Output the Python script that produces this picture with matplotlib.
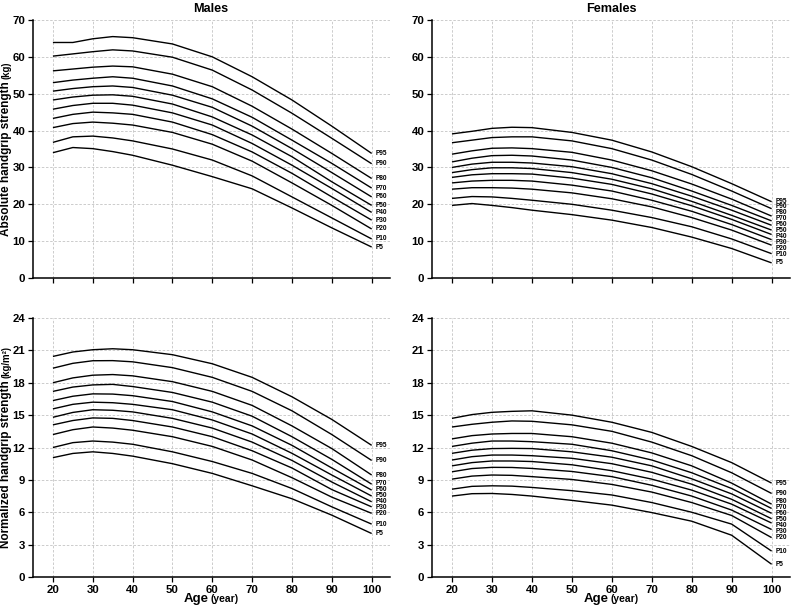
import matplotlib
matplotlib.use("Agg")
import matplotlib.pyplot as plt
import numpy as np

plt.rcParams['font.family'] = ['Liberation Sans', 'DejaVu Sans']
plt.rcParams['font.weight'] = 'bold'

ages = [20, 25, 30, 35, 40, 50, 60, 70, 80, 90, 100]
percentiles = ["P95", "P90", "P80", "P70", "P60", "P50", "P40", "P30", "P20", "P10", "P5"]

male_abs = [
    [63.9, 63.9, 64.9, 65.5, 65.2, 63.5, 60.0, 54.6, 48.3, 41.2, 33.8],
    [60.2, 60.8, 61.4, 61.9, 61.6, 59.9, 56.4, 51.0, 44.7, 37.9, 31.0],
    [56.2, 56.7, 57.2, 57.5, 57.3, 55.3, 51.9, 46.6, 40.4, 33.8, 27.0],
    [53.0, 53.7, 54.2, 54.6, 54.2, 52.1, 48.6, 43.6, 37.4, 31.1, 24.4],
    [50.7, 51.4, 51.9, 52.1, 51.7, 49.6, 46.3, 41.2, 35.1, 28.6, 22.0],
    [48.3, 49.1, 49.6, 49.7, 49.3, 47.2, 43.7, 38.8, 32.9, 26.1, 19.7],
    [45.8, 46.8, 47.4, 47.4, 46.9, 44.8, 41.5, 36.5, 30.6, 24.3, 17.8],
    [43.3, 44.4, 45.0, 44.8, 44.4, 42.3, 38.9, 34.2, 28.4, 22.0, 15.7],
    [40.8, 41.9, 42.3, 42.0, 41.5, 39.5, 36.3, 31.7, 25.8, 19.7, 13.3],
    [36.8, 38.3, 38.5, 38.0, 37.2, 35.0, 32.0, 27.7, 22.0, 16.3, 10.6],
    [34.0, 35.4, 35.1, 34.3, 33.3, 30.6, 27.5, 24.2, 19.0, 13.6, 8.4],
]

female_abs = [
    [39.1, 39.8, 40.6, 40.9, 40.8, 39.5, 37.4, 34.2, 30.2, 25.6, 20.7],
    [36.7, 37.4, 38.1, 38.3, 38.3, 37.2, 35.1, 32.0, 28.1, 23.6, 18.8],
    [33.6, 34.5, 35.2, 35.3, 35.1, 34.1, 32.0, 29.1, 25.5, 21.4, 16.8],
    [31.5, 32.5, 33.2, 33.3, 33.1, 32.0, 30.0, 27.2, 23.6, 19.7, 15.5],
    [30.0, 30.9, 31.4, 31.4, 31.2, 30.2, 28.3, 25.6, 22.2, 18.4, 14.3],
    [28.6, 29.4, 29.9, 29.9, 29.7, 28.6, 26.8, 24.2, 20.8, 17.0, 13.0],
    [27.3, 28.0, 28.3, 28.3, 28.2, 27.1, 25.4, 22.8, 19.6, 15.9, 11.8],
    [25.8, 26.3, 26.5, 26.5, 26.3, 25.2, 23.6, 21.1, 18.1, 14.5, 10.4],
    [24.1, 24.5, 24.5, 24.4, 24.1, 23.1, 21.5, 19.3, 16.4, 13.0, 8.9],
    [21.6, 22.1, 22.0, 21.6, 21.1, 20.0, 18.4, 16.4, 13.9, 10.6, 6.6],
    [19.7, 20.2, 19.7, 19.1, 18.4, 17.2, 15.7, 13.7, 11.1, 8.0, 4.1],
]

male_norm = [
    [20.44, 20.85, 21.06, 21.15, 21.06, 20.6, 19.76, 18.5, 16.7, 14.6, 12.2],
    [19.35, 19.8, 20.04, 20.05, 19.94, 19.4, 18.5, 17.2, 15.4, 13.2, 10.8],
    [18.0, 18.45, 18.7, 18.76, 18.64, 18.1, 17.2, 15.9, 14.0, 11.9, 9.45],
    [17.2, 17.6, 17.8, 17.85, 17.65, 17.1, 16.2, 14.9, 13.0, 10.9, 8.6],
    [16.35, 16.75, 16.97, 16.95, 16.8, 16.26, 15.3, 14.0, 12.2, 10.1, 8.05],
    [15.58, 16.0, 16.2, 16.15, 16.0, 15.5, 14.55, 13.25, 11.46, 9.45, 7.5],
    [14.8, 15.25, 15.5, 15.45, 15.3, 14.7, 13.8, 12.5, 10.8, 8.8, 6.97],
    [14.1, 14.5, 14.74, 14.7, 14.5, 13.9, 13.0, 11.7, 10.1, 8.1, 6.5],
    [13.2, 13.65, 13.9, 13.8, 13.6, 13.0, 12.1, 10.84, 9.2, 7.4, 5.9],
    [12.0, 12.45, 12.6, 12.5, 12.3, 11.6, 10.7, 9.6, 8.2, 6.5, 4.9],
    [11.06, 11.45, 11.6, 11.45, 11.2, 10.5, 9.6, 8.45, 7.25, 5.73, 4.03],
]

female_norm = [
    [14.7, 15.05, 15.26, 15.35, 15.4, 15.0, 14.34, 13.4, 12.1, 10.6, 8.7],
    [13.9, 14.15, 14.34, 14.46, 14.43, 14.1, 13.5, 12.5, 11.24, 9.66, 7.74],
    [12.8, 13.1, 13.25, 13.3, 13.3, 13.0, 12.4, 11.5, 10.3, 8.7, 6.75],
    [12.1, 12.4, 12.6, 12.6, 12.54, 12.3, 11.7, 10.84, 9.66, 8.2, 6.35],
    [11.46, 11.75, 11.9, 11.92, 11.9, 11.6, 11.1, 10.3, 9.1, 7.7, 5.9],
    [10.84, 11.15, 11.3, 11.3, 11.24, 11.0, 10.5, 9.7, 8.6, 7.2, 5.4],
    [10.3, 10.6, 10.75, 10.75, 10.7, 10.4, 9.85, 9.07, 8.05, 6.75, 5.0],
    [9.75, 10.05, 10.16, 10.15, 10.06, 9.78, 9.3, 8.5, 7.5, 6.2, 4.4],
    [9.07, 9.35, 9.45, 9.42, 9.3, 9.04, 8.58, 7.87, 6.9, 5.7, 3.65],
    [8.14, 8.4, 8.45, 8.42, 8.3, 8.0, 7.6, 6.9, 6.0, 4.9, 2.4],
    [7.5, 7.72, 7.74, 7.65, 7.5, 7.1, 6.66, 5.97, 5.17, 3.87, 1.18],
]

x_ticks = [20, 30, 40, 50, 60, 70, 80, 90, 100]
abs_ticks = [0, 10, 20, 30, 40, 50, 60, 70]
norm_ticks = [0, 3, 6, 9, 12, 15, 18, 21, 24]

W, H = 791, 607
fig = plt.figure(figsize=(W / 100, H / 100), dpi=100)

def px_axes(x0, x1, y0, y1):
    return fig.add_axes([x0 / W, 1 - y1 / H, (x1 - x0) / W, (y1 - y0) / H])

ax_ml = px_axes(33, 390, 20, 278)
ax_fl = px_axes(432, 790, 20, 278)
ax_mn = px_axes(33, 390, 318, 577)
ax_fn = px_axes(432, 790, 318, 577)

def spread(vals, gap):
    v = list(vals)
    for _ in range(300):
        for i in range(1, len(v)):
            d = v[i - 1] - v[i]
            if d < gap:
                m = (gap - d) / 2
                v[i - 1] += m
                v[i] -= m
    return v

def style(ax, yticks, show_xlabels):
    ax.set_xlim(15, 104.6)
    ax.set_ylim(yticks[0], yticks[-1])
    ax.set_xticks(x_ticks)
    ax.set_yticks(yticks)
    ax.grid(True, color='#c4c4c4', linestyle=(0, (3, 2)), linewidth=0.6)
    ax.set_axisbelow(True)
    for s in ['top', 'right']:
        ax.spines[s].set_visible(False)
    for s in ['left', 'bottom']:
        ax.spines[s].set_linewidth(1.1)
    ax.tick_params(axis='both', direction='out', length=3.5, width=0.9,
                   labelsize=8.2, pad=2)
    if not show_xlabels:
        ax.tick_params(axis='x', labelbottom=False)
    for lab in ax.get_xticklabels() + ax.get_yticklabels():
        lab.set_fontweight('bold')

def draw(ax, data, ymax):
    for row in data:
        ax.plot(ages, row, color='black', linewidth=1.0, solid_capstyle='butt')
    ends = [row[-1] for row in data]
    gap = 5.9 * ymax / 258.0
    ys = spread(ends, gap)
    for name, y in zip(percentiles, ys):
        ax.text(101, y, name, fontsize=4.7, fontweight='bold', ha='left', va='center')

style(ax_ml, abs_ticks, False)
style(ax_fl, abs_ticks, False)
style(ax_mn, norm_ticks, True)
style(ax_fn, norm_ticks, True)
draw(ax_ml, male_abs, 70)
draw(ax_fl, female_abs, 70)
draw(ax_mn, male_norm, 24)
draw(ax_fn, female_norm, 24)

fig.text(211 / W, 1 - 9 / H, "Males", fontsize=9.1, fontweight='bold', ha='center', va='center')
fig.text(611 / W, 1 - 9 / H, "Females", fontsize=9.1, fontweight='bold', ha='center', va='center')

fig.canvas.draw()
renderer = fig.canvas.get_renderer()

def ylabel2(parts, sizes, center_from_top, base_x):
    texts = []
    for s, fs in zip(parts, sizes):
        t = fig.text(0, 0, s, fontsize=fs, fontweight='bold', ha='left', va='baseline',
                     rotation=90, rotation_mode='anchor')
        texts.append(t)
    lens = [t.get_window_extent(renderer).height for t in texts]
    gap = 2.5
    total = sum(lens) + gap * (len(lens) - 1)
    pos = (H - center_from_top) - total / 2
    for t, L in zip(texts, lens):
        t.set_position((base_x / W, pos / H))
        pos += L + gap

def xlabel2(parts, sizes, center_x, base_from_top):
    texts = []
    for s, fs in zip(parts, sizes):
        t = fig.text(0, 0, s, fontsize=fs, fontweight='bold', ha='left', va='baseline')
        texts.append(t)
    lens = [t.get_window_extent(renderer).width for t in texts]
    gap = 2.5
    total = sum(lens) + gap * (len(lens) - 1)
    pos = center_x - total / 2
    for t, L in zip(texts, lens):
        t.set_position((pos / W, 1 - base_from_top / H))
        pos += L + gap

ylabel2(["Absolute handgrip strength", "(kg)"], [8.5, 6.9], 149, 9.5)
ylabel2(["Normalized handgrip strength", "(kg/m²)"], [8.5, 6.9], 447, 9.5)
xlabel2(["Age", "(year)"], [9.5, 7.4], 211, 602)
xlabel2(["Age", "(year)"], [9.5, 7.4], 611, 602)

fig.savefig("out.png", dpi=100)
